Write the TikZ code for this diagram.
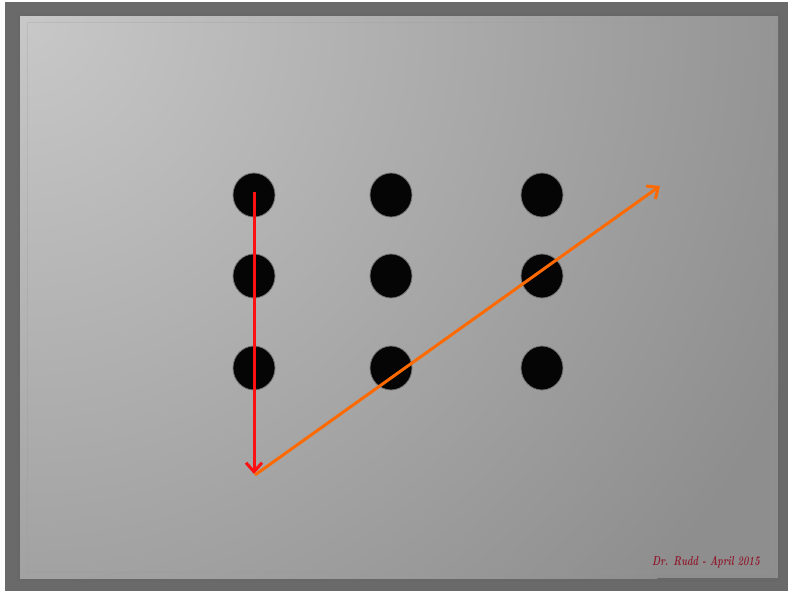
\documentclass[tikz,border=0pt]{standalone}
\usetikzlibrary{arrows.meta,shapes.geometric}
\definecolor{frame}{HTML}{6A6A6A}
\definecolor{panelin}{HTML}{C8C8C8}
\definecolor{panelout}{HTML}{8E8E8E}
\definecolor{sig}{HTML}{8E1A2E}
\definecolor{arrred}{HTML}{FF1010}
\definecolor{arrorange}{HTML}{FF6A00}
\tikzset{
  dot/.style={ellipse, minimum width=42pt, minimum height=44pt, inner sep=0pt, fill=black!98, draw=black!55, line width=0.8pt},
  arrowline/.style={line width=3pt, -{Straight Barb[length=9pt,width=16pt,line width=3pt]}},
}
\begin{document}
\begin{tikzpicture}[x=1pt,y=-1pt]
\useasboundingbox (0,0) rectangle (788,592);
\fill[white] (0,0) rectangle (788,592);
\fill[frame] (5,2) rectangle (788,591);
\fill[black!60,opacity=0.4] (17,13) rectangle (781,582);
\begin{scope}
  \clip (20,16) rectangle (778,578);
  \fill[panelout] (20,16) rectangle (778,578);
  \shade[inner color=panelin, outer color=panelout] (20,16) circle (850);
\end{scope}
\draw[black!40,opacity=0.25,line width=0.8pt] (27,22) rectangle (772,572);
% dots
\node[dot] (a1) at (254,195) {};
\node[dot] (a2) at (391,195) {};
\node[dot] (a3) at (542,195) {};
\node[dot] (b1) at (254,276) {};
\node[dot] (b2) at (391,276) {};
\node[dot] (b3) at (542,276) {};
\node[dot] (c1) at (254,368) {};
\node[dot] (c2) at (391,368) {};
\node[dot] (c3) at (542,368) {};
\coordinate (s) at (254,192);
\coordinate (v) at (254,474);
\coordinate (e) at (660,186);
\draw[arrowline, arrred] (s) -- (v);
\draw[arrowline, arrorange] ([xshift=1pt,yshift=-1pt]v) -- (e);
\node[sig, font=\itshape\bfseries\fontsize{13}{15}\selectfont, anchor=east, inner sep=0pt] (sg) at (760,562) {\scalebox{0.72}[1]{Dr. Rudd - April 2015}};
\end{tikzpicture}
\end{document}
